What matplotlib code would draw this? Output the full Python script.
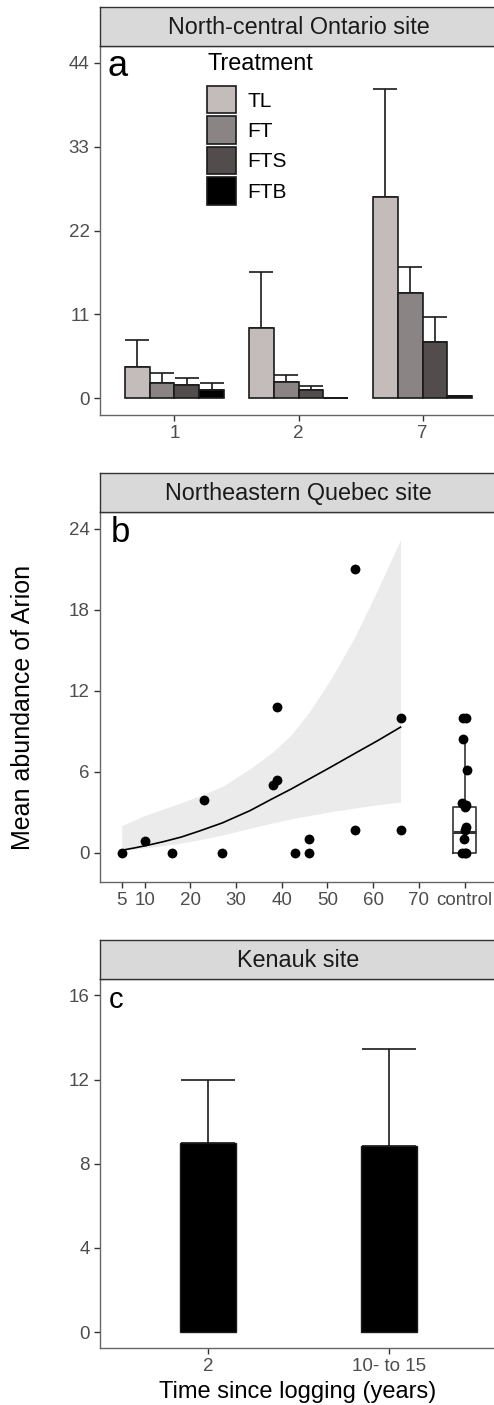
import matplotlib
matplotlib.use("Agg")
import matplotlib.pyplot as plt
from matplotlib.patches import Patch
import numpy as np

plt.rcParams['font.family'] = ['Liberation Sans', 'DejaVu Sans']

# ---- panel a: North-central Ontario ----
years_a = ['1', '2', '7']
treatments = ['TL', 'FT', 'FTS', 'FTB']
treat_colors = ['#c4bbbb', '#8a8484', '#524c4c', '#000000']
mean_a = {
    'TL':  [4.1, 9.25, 26.4],
    'FT':  [1.95, 2.15, 13.8],
    'FTS': [1.7, 1.1, 7.4],
    'FTB': [1.1, 0.0, 0.3],
}
upper_a = {
    'TL':  [7.6, 16.6, 40.6],
    'FT':  [3.25, 3.05, 17.2],
    'FTS': [2.7, 1.6, 10.6],
    'FTB': [2.05, 0.0, 0.3],
}

# ---- panel b: Northeastern Quebec ----
age_b = [5, 10, 16, 23, 27, 38, 39, 39, 43, 46, 46, 56, 56, 66, 66]
abund_b = [0, 0.86, 0, 3.9, 0, 5.0, 5.4, 10.8, 0, 1.0, 0, 21.0, 1.66, 10.0, 1.66]
fit_x = [5, 8, 11, 14, 18, 22, 27, 30, 33, 38, 42, 46, 50, 56, 61, 66]
fit_y = [0.17, 0.36, 0.57, 0.8, 1.15, 1.6, 2.2, 2.65, 3.1, 4.0, 4.7, 5.45, 6.2, 7.35, 8.3, 9.3]
ci_x = [5, 10, 16, 22, 27, 33, 38, 42, 46, 51, 56, 61, 66]
ci_lo = [0.15, 0.35, 0.6, 0.95, 1.3, 1.8, 2.2, 2.5, 2.75, 3.05, 3.3, 3.55, 3.75]
ci_hi = [2.0, 2.75, 3.45, 4.2, 4.9, 6.2, 7.45, 8.7, 10.4, 13.0, 16.0, 19.5, 23.2]
control_vals = [10.0, 10.0, 8.39, 6.1, 3.7, 3.5, 3.39, 1.9, 1.66, 1.0, 0, 0, 0]
control_jit = [-0.3, 0.3, -0.3, 0.6, -0.5, 0.3, 0.1, 0.3, 0.1, -0.1, -0.5, 0.4, 0.0]
control_box = dict(med=1.55, q1=0.0, q3=3.39, whislo=0.0, whishi=8.39, fliers=[])
xticks_b = [5, 10, 20, 30, 40, 50, 60, 70, 80]
xlabels_b = ['5', '10', '20', '30', '40', '50', '60', '70', 'control']

# ---- panel c: Kenauk ----
periods_c = ['2', '10- to 15']
mean_c = [9.0, 8.82]
upper_c = [12.0, 13.44]

W, H = 494, 1405
fig = plt.figure(figsize=(W / 100, H / 100), dpi=100)

left, right = 100, 497
panels = [(46, 415), (512, 882), (979, 1348)]
strip_h = 39.5
tick_col = '#4d4d4d'


def make_panel(top, bot, title):
    ax = fig.add_axes([left / W, 1 - bot / H, (right - left) / W, (bot - top) / H])
    st = fig.add_axes([left / W, 1 - top / H, (right - left) / W, strip_h / H])
    st.set_facecolor('#d9d9d9')
    st.set_xticks([])
    st.set_yticks([])
    for s in st.spines.values():
        s.set_color('#333333')
        s.set_linewidth(1.0)
    st.text(0.5, 0.47, title, ha='center', va='center', fontsize=16.8,
            color='#1a1a1a', transform=st.transAxes)
    for s in ax.spines.values():
        s.set_color('#666666')
        s.set_linewidth(1.0)
    ax.tick_params(direction='out', length=4.5, width=1.0, color='#333333',
                   labelcolor=tick_col, labelsize=13.5, pad=3)
    return ax


# panel a
ax = make_panel(*panels[0], 'North-central Ontario site')
x = np.arange(1, len(years_a) + 1)
bw = 0.2
offsets = [-0.3, -0.1, 0.1, 0.3]
for t, c, off in zip(treatments, treat_colors, offsets):
    m = np.array(mean_a[t])
    u = np.array(upper_a[t])
    ax.errorbar(x + off, m, yerr=[np.zeros_like(m), u - m], fmt='none',
                ecolor='#1a1a1a', elinewidth=1.2, capsize=8.6, capthick=1.2, zorder=1)
    ax.bar(x + off, m, bw, color=c, edgecolor='#1a1a1a', linewidth=1.2, zorder=2)
ax.set_xlim(0.4, 3.6)
ax.set_ylim(-2.2, 46.2)
ax.set_yticks([0, 11, 22, 33, 44])
ax.set_xticks(x)
ax.set_xticklabels(years_a)
ax.text(0.02, 0.919, 'a', transform=ax.transAxes, fontsize=26, va='baseline')
handles = [Patch(facecolor=c, edgecolor='#1a1a1a', linewidth=1.2) for c in treat_colors]
fig.text(208 / W, 1 - 70.5 / H, 'Treatment', fontsize=16.8, va='baseline', ha='left')
ax.legend(handles, treatments, loc='upper left',
          bbox_to_anchor=(207 / W, 1 - 86 / H), bbox_transform=fig.transFigure,
          frameon=False, fontsize=15, handlelength=1.4,
          handleheight=1.65, labelspacing=0.14, handletextpad=0.55, borderpad=0,
          borderaxespad=0)

# panel b
ax = make_panel(*panels[1], 'Northeastern Quebec site')
ax.fill_between(ci_x, ci_lo, ci_hi, color='#ebebeb', linewidth=0, zorder=1)
ax.plot(fit_x, fit_y, color='#000000', lw=1.2, zorder=2)
ax.bxp([control_box], positions=[80], widths=5.2, showfliers=False, showcaps=False,
       boxprops=dict(color='#333333', lw=1.2), whiskerprops=dict(color='#333333', lw=1.2),
       medianprops=dict(color='#333333', lw=2.2), manage_ticks=False, zorder=2)
ax.scatter(age_b, abund_b, s=50, color='black', zorder=3, linewidths=0)
ax.scatter(80 + np.array(control_jit), control_vals, s=50, color='black', zorder=3, linewidths=0)
ax.set_xlim(0.25, 87.1)
ax.set_ylim(-2.18, 25.25)
ax.set_yticks([0, 6, 12, 18, 24])
ax.set_xticks(xticks_b)
ax.set_xticklabels(xlabels_b)
ax.text(0.027, 0.92, 'b', transform=ax.transAxes, fontsize=25, va='baseline')

# panel c
ax = make_panel(*panels[2], 'Kenauk site')
xc = np.arange(1, len(periods_c) + 1)
m = np.array(mean_c)
u = np.array(upper_c)
ax.errorbar(xc, m, yerr=[np.zeros_like(m), u - m], fmt='none', ecolor='#1a1a1a',
            elinewidth=1.2, capsize=19.3, capthick=1.2, zorder=1)
ax.bar(xc, m, 0.31, color='black', edgecolor='#1a1a1a', linewidth=1.0, zorder=2)
ax.set_xlim(0.4, 2.6)
ax.set_ylim(-0.76, 16.78)
ax.set_yticks([0, 4, 8, 12, 16])
ax.set_xticks(xc)
ax.set_xticklabels(periods_c)
ax.text(0.023, 0.921, 'c', transform=ax.transAxes, fontsize=21, va='baseline')

fig.text(23 / W, 1 - 707 / H, 'Mean abundance of Arion', rotation=90,
         ha='center', va='center', fontsize=18)
fig.text(298 / W, 1 - 1392 / H, 'Time since logging (years)',
         ha='center', va='center', fontsize=17)

fig.savefig('out.png', dpi=100)
